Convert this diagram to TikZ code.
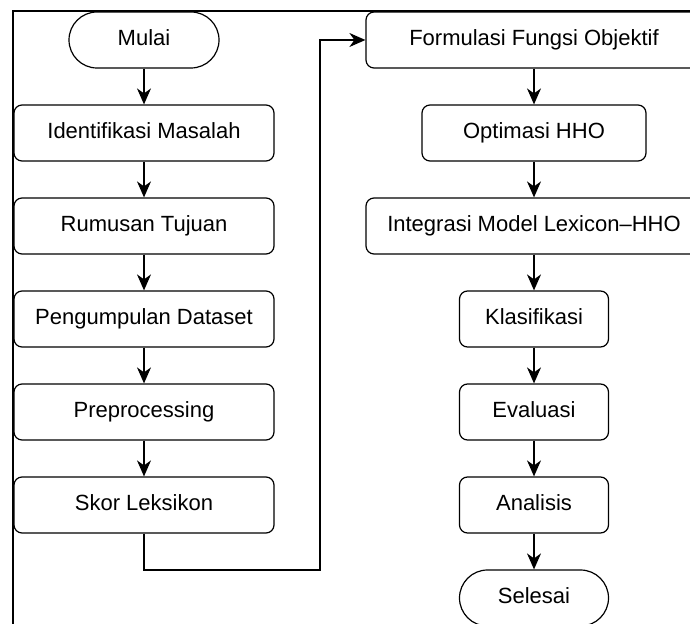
\documentclass[tikz,border=0pt]{standalone}
\usepackage{fontspec}
\setmainfont{Liberation Sans}
\usetikzlibrary{arrows.meta, positioning}

\begin{document}
\begin{tikzpicture}[x=0.5pt,y=-0.5pt,>={Stealth[length=8pt,width=7pt,inset=2.5pt]},
  line width=0.6pt,node distance=17.9pt,
  every node/.style={font=\fontsize{11pt}{13pt}\selectfont,text height=7.9pt,text depth=2.1pt},
  proses/.style={draw,rounded corners=4pt,minimum height=28pt,inner sep=0pt},
  terminal/.style={draw,rounded corners=14pt,minimum height=28pt,minimum width=75pt,inner sep=0pt}]
% frame and page size
  \useasboundingbox (0,0) rectangle (690,624);
  \clip (0,0) rectangle (690,624);
  \draw[line width=0.8pt] (13,11) rectangle (720,660);

% define the left column
  \node[terminal]                    (mulai)       at (144,40) {Mulai};
  \node[proses, minimum width=130pt] (identifikasi) [below=of mulai]        {Identifikasi Masalah};
  \node[proses, minimum width=130pt] (rumusan)      [below=of identifikasi] {Rumusan Tujuan};
  \node[proses, minimum width=130pt] (pengumpulan)  [below=of rumusan]      {Pengumpulan Dataset};
  \node[proses, minimum width=130pt] (preprocess)   [below=of pengumpulan]  {Preprocessing};
  \node[proses, minimum width=130pt] (skor)         [below=of preprocess]   {Skor Leksikon};

% define the right column
  \node[proses, minimum width=168pt] (formulasi)   at (534,40) {Formulasi Fungsi Objektif};
  \node[proses, minimum width=112pt] (optimasi)    [below=of formulasi]   {Optimasi HHO};
  \node[proses, minimum width=168pt] (integrasi)   [below=of optimasi]    {Integrasi Model Lexicon--HHO};
  \node[proses, minimum width=74.5pt] (klasifikasi) [below=of integrasi]  {Klasifikasi};
  \node[proses, minimum width=74.5pt] (evaluasi)    [below=of klasifikasi] {Evaluasi};
  \node[proses, minimum width=74.5pt] (analisis)    [below=of evaluasi]    {Analisis};
  \node[terminal, minimum width=74.5pt] (selesai)   [below=of analisis]    {Selesai};

  \coordinate (belok) at (320,570);

% define the links
  \path[->] (mulai)        edge (identifikasi)
            (identifikasi) edge (rumusan)
            (rumusan)      edge (pengumpulan)
            (pengumpulan)  edge (preprocess)
            (preprocess)   edge (skor)
            (formulasi)    edge (optimasi)
            (optimasi)     edge (integrasi)
            (integrasi)    edge (klasifikasi)
            (klasifikasi)  edge (evaluasi)
            (evaluasi)     edge (analisis)
            (analisis)     edge (selesai);
  \draw[->] (skor.south) |- (belok) |- (formulasi.west);

\end{tikzpicture}
\end{document}
